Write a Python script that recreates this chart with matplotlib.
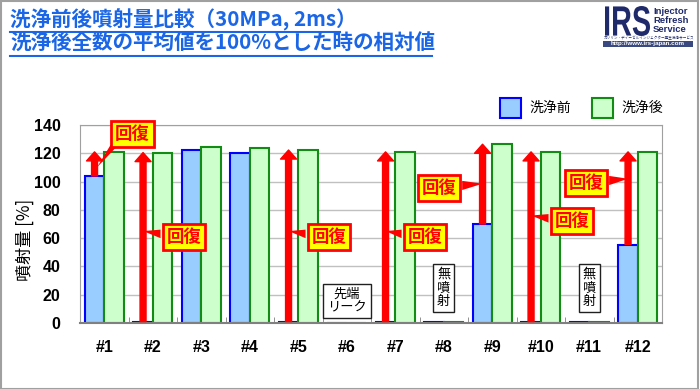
import numpy as np
import matplotlib.pyplot as plt
from matplotlib.patches import Rectangle, Polygon, FancyArrowPatch, PathPatch
from matplotlib.lines import Line2D
from matplotlib.textpath import TextPath
from matplotlib.font_manager import FontProperties
from matplotlib.transforms import Affine2D

plt.rcParams['font.family'] = ['Liberation Sans', 'Noto Sans CJK JP', 'DejaVu Sans']
jp = ['Noto Sans CJK JP', 'DejaVu Sans']

# data
labels = ['#1', '#2', '#3', '#4', '#5', '#6', '#7', '#8', '#9', '#10', '#11', '#12']
before = [104, 1, 122, 120.5, 1, 0, 1, 0.5, 70, 1, 0.5, 55.5]
after = [121, 120.5, 124.3, 123.5, 122.3, 0, 121, 0.5, 126.4, 121, 0.5, 121]
recovered = [0, 1, 4, 6, 8, 9, 11]

# callout boxes: (box x, box y, arrow index, side)
callouts = [(0.58, 133.7, 0, 'bottom'),
            (1.64, 61, 1, 'left'),
            (4.63, 61, 4, 'left'),
            (6.61, 61, 6, 'left'),
            (6.90, 95.5, 8, 'right'),
            (9.64, 72, 9, 'left'),
            (9.93, 99, 11, 'right')]

notes = [(5.0, 15.6, '先端\nリーク'), (7.0, 24.7, '無\n噴\n射'), (10.0, 24.7, '無\n噴\n射')]

W, H = 700, 389
fig = plt.figure(figsize=(7, 3.89), dpi=100)
fig.patch.set_facecolor('white')
ax = fig.add_axes([80 / W, 1 - 323 / H, 582 / W, 198 / H])

x = np.arange(len(labels))
bw = 0.4
ax.bar(x - bw / 2, before, bw, color='#99ccff', edgecolor='#0000ff', linewidth=1.5, zorder=2)
ax.bar(x + bw / 2, after, bw, color='#ccffcc', edgecolor='#128c12', linewidth=1.5, zorder=2)

ax.set_xlim(-0.5, len(labels) - 0.5)
ax.set_ylim(0, 140)
ax.set_yticks(np.arange(0, 141, 20))
ax.set_xticks(x)
ax.set_xticklabels(labels)
ax.set_xticks(np.arange(-0.5, len(labels), 1), minor=True)
ax.tick_params(axis='x', which='major', length=0, pad=12, labelsize=11.5)
ax.tick_params(axis='x', which='minor', length=4, direction='in', color='#808080')
ax.tick_params(axis='y', length=0, pad=14, labelsize=11.5)
for t in ax.get_xticklabels() + ax.get_yticklabels():
    t.set_fontweight('bold')
ax.yaxis.grid(True, color='#c0c0c0', linewidth=1, zorder=0)
ax.set_axisbelow(True)
for s in ['top', 'right', 'left']:
    ax.spines[s].set_color('#a0a0a0')
ax.spines['bottom'].set_color('#808080')
ax.spines['bottom'].set_linewidth(1.5)
ax.set_ylabel('噴射量 [%]', family=jp, fontsize=12.3, va='center')
ax.yaxis.set_label_coords(-0.094, 0.42)

# recovery arrows
for i in recovered:
    arr = FancyArrowPatch((i - bw / 2, before[i]), (i - bw / 2, after[i]),
                          arrowstyle='Simple,tail_width=4.3,head_width=11.5,head_length=6.5',
                          color='#ff0000', shrinkA=0, shrinkB=0, zorder=4)
    ax.add_patch(arr)

# callouts
hw, hh = 0.5, 8.8
for bx, by, i, side in callouts:
    ax_x = i - bw / 2
    if side == 'bottom':
        pts = [(bx - 0.45, by - hh + 1), (bx - 0.29, by - hh + 1), (ax_x + 0.05, before[i] + 6)]
    elif side == 'left':
        pts = [(bx - hw + 0.02, by + 5), (bx - hw + 0.02, by - 1), (ax_x, by + 4)]
    else:
        pts = [(bx + hw - 0.02, by + 5), (bx + hw - 0.02, by - 1.5), (ax_x, by + 3)]
    ax.add_patch(Polygon(pts, closed=True, facecolor='#ff0000', edgecolor='none', zorder=5))
    ax.text(bx, by, '回復', family=jp, fontsize=12.5, fontweight='bold', color='#ff0000',
            ha='center', va='center', zorder=6,
            bbox=dict(boxstyle='square,pad=0.22', facecolor='#ffff00', edgecolor='#ff0000', linewidth=2))

for nx, ny, txt in notes:
    ax.text(nx, ny, txt, family=jp, fontsize=9.5, ha='center', va='center', linespacing=1.05,
            zorder=6, bbox=dict(boxstyle='square,pad=0.3', facecolor='white', edgecolor='#202020', linewidth=1))

# legend
def fx(px):
    return px / W

def fy(py):
    return 1 - py / H

fig.add_artist(Rectangle((fx(500), fy(118)), 21 / W, 20 / H, transform=fig.transFigure,
                         facecolor='#99ccff', edgecolor='#0000ff', linewidth=1.5))
fig.text(fx(529), fy(108), '洗浄前', family=jp, fontsize=10, va='center')
fig.add_artist(Rectangle((fx(592), fy(118)), 21 / W, 20 / H, transform=fig.transFigure,
                         facecolor='#ccffcc', edgecolor='#128c12', linewidth=1.5))
fig.text(fx(621), fy(108), '洗浄後', family=jp, fontsize=10, va='center')

# title
title_color = '#1a66e6'
fig.text(fx(10), fy(20), '洗浄前後噴射量比較（30MPa, 2ms）', family=jp, fontsize=14.8,
         fontweight='bold', color=title_color, va='center')
fig.text(fx(10), fy(43), '洗浄後全数の平均値を100%とした時の相対値', family=jp, fontsize=14.8,
         fontweight='bold', color=title_color, va='center')
fig.add_artist(Line2D([fx(10), fx(340)], [fy(32), fy(32)], color=title_color, lw=1.5))
fig.add_artist(Line2D([fx(10), fx(432)], [fy(56), fy(56)], color=title_color, lw=1.5))

# logo: condensed "IRS" drawn as a path, in pixel units
navy = '#1f2a6b'
tp = TextPath((0, 0), 'IRS', size=42, prop=FontProperties(family='Liberation Sans', weight='bold'))
ext = tp.get_extents()
logo_tr = Affine2D().translate(-ext.x0, -ext.y0).scale(45 / ext.width, 30 / ext.height).translate(605, H - 36)
fig.add_artist(PathPatch(tp, transform=logo_tr, facecolor=navy, edgecolor='none'))
for k, w in enumerate(['Injector', 'Refresh', 'Service']):
    fig.text(fx(653), fy(11 + k * 9.5), w, fontsize=6.8, fontweight='bold', color=navy, va='center',
             family=['Liberation Sans Narrow', 'Liberation Sans'])
fig.text(fx(604), fy(38), 'ガソリン・ディーゼルインジェクター再生洗浄サービス', family=jp, fontsize=2.6,
         color=navy, va='center')
fig.add_artist(Rectangle((fx(603), fy(47)), 90 / W, 6 / H, transform=fig.transFigure,
                         facecolor='#3a4a80', edgecolor='none'))
fig.text(fx(648), fy(44), 'http://www.irs-japan.com', fontsize=4.5, fontweight='bold',
         color='white', va='center', ha='center')

# frame
fig.add_artist(Rectangle((0.5 / W, 0.5 / H), 697 / W, 388 / H, transform=fig.transFigure,
                         facecolor='none', edgecolor='#a0a0a0', linewidth=1.5))

fig.savefig('out.png', dpi=100)
